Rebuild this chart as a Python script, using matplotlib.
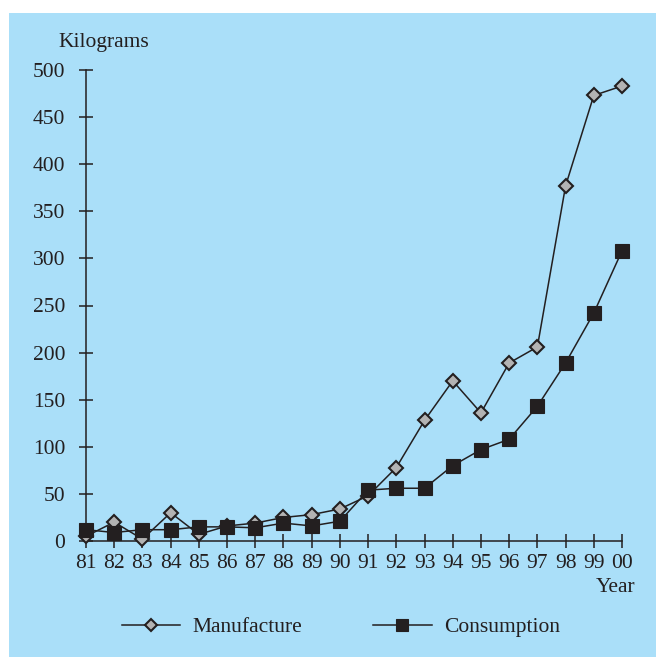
import matplotlib
matplotlib.use('Agg')
import matplotlib.pyplot as plt
from matplotlib.patches import Rectangle

# years as plotted (81..100), labels shown with two digits
years = list(range(81, 101))
year_labels = ['81', '82', '83', '84', '85', '86', '87', '88', '89', '90',
               '91', '92', '93', '94', '95', '96', '97', '98', '99', '00']

manufacture = [5, 20, 2, 30, 7, 16, 19, 25, 28, 34,
               48, 78, 128, 170, 136, 189, 206, 377, 473, 483]
consumption = [12, 9, 12, 12, 15, 15, 14, 19, 16, 21,
               54, 56, 56, 80, 97, 108, 143, 189, 242, 308]

ink = '#231f20'
bg = '#aadff9'
fs = 15.5

plt.rcParams['font.family'] = ['Liberation Serif', 'DejaVu Serif']
plt.rcParams['font.size'] = fs

fig = plt.figure(figsize=(6.56, 6.57), dpi=100)
fig.patch.set_facecolor('white')
fig.patches.append(Rectangle((9 / 656, 0), 1, 1 - 13 / 657, transform=fig.transFigure,
                             facecolor=bg, edgecolor='none', zorder=-10))

ax = fig.add_axes([86 / 656, 116 / 657, 536 / 656, 471 / 657])
ax.set_facecolor('none')

ax.plot(years, manufacture, color=ink, lw=1.1, marker='D', ms=7,
        mfc='#b3b3b3', mec=ink, mew=1.5, clip_on=False, zorder=3,
        label='Manufacture')
ax.plot(years, consumption, color=ink, lw=1.1, marker='s', ms=9.5,
        mfc=ink, mec=ink, mew=0.8, clip_on=False, zorder=4,
        label='Consumption')

ax.set_xlim(81, 100)
ax.set_ylim(0, 500)
ax.set_xticks(years)
ax.set_xticklabels(year_labels)
ax.set_yticks(range(0, 501, 50))

for s in ['top', 'right']:
    ax.spines[s].set_visible(False)
for s in ['left', 'bottom']:
    ax.spines[s].set_color(ink)
    ax.spines[s].set_linewidth(1.1)

ax.tick_params(axis='both', direction='inout', length=10, width=1.1,
               color=ink, labelcolor=ink, labelsize=fs)
ax.tick_params(axis='y', pad=10)
ax.tick_params(axis='x', pad=4)

fig.text(104 / 656, 1 - 42 / 657, 'Kilograms', ha='center', va='center',
         fontsize=fs, color=ink)
fig.text(616 / 656, 1 - 588 / 657, 'Year', ha='center', va='center',
         fontsize=fs, color=ink)

leg = fig.legend(loc='center', bbox_to_anchor=(341 / 656, 1 - 627 / 657),
                 ncol=2, frameon=False, handlelength=2.7, handletextpad=0.6,
                 columnspacing=3.3, fontsize=fs, labelcolor=ink,
                 markerscale=0.85)

plt.savefig('out.png', dpi=100)
